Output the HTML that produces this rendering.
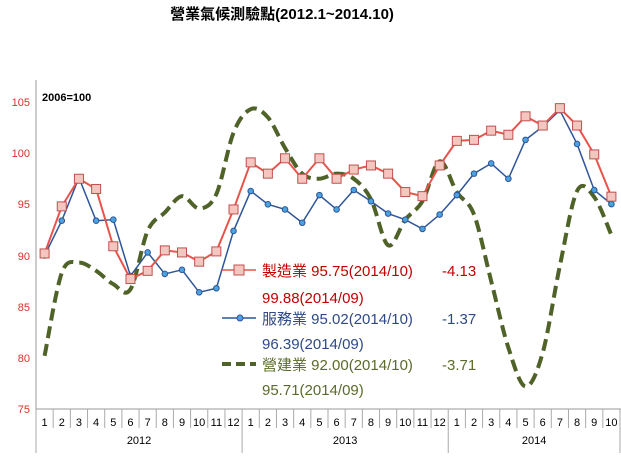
<!DOCTYPE html>
<html><head><meta charset="utf-8"><style>
body{margin:0;background:#fff;width:621px;height:453px;overflow:hidden;font-family:"Liberation Sans","Noto Sans CJK TC",sans-serif}
</style></head><body>
<svg id="s" width="621" height="453" xmlns="http://www.w3.org/2000/svg" font-family="Liberation Sans, Noto Sans CJK TC, sans-serif">
<text x="282" y="19" text-anchor="middle" font-size="15" font-weight="bold" fill="#000">營業氣候測驗點(2012.1~2014.10)</text>
<text x="42" y="101" font-size="11" font-weight="bold" fill="#000">2006=100</text>
<g font-size="11" fill="#d9302a" text-anchor="end">
<text x="30" y="106">105</text><text x="30" y="157">100</text><text x="30" y="208">95</text>
<text x="30" y="260">90</text><text x="30" y="311">85</text><text x="30" y="362">80</text><text x="30" y="413">75</text>
</g>
<line x1="36" y1="80" x2="36" y2="409" stroke="#999"/>
<line x1="36" y1="409" x2="621" y2="409" stroke="#999"/>
<g id="ax"></g>
<g id="lines"></g>
<g font-size="15">
<line x1="222" y1="270" x2="256" y2="270" stroke="#e8534a" stroke-width="1.5"/><rect x="234" y="265" width="10" height="10" fill="#f4c6c0" stroke="#c0504d"/>
<text x="262" y="276" fill="#c00000">製造業  95.75(2014/10)</text><text x="442" y="276" fill="#c00000">-4.13</text>
<text x="262" y="303" fill="#c00000">99.88(2014/09)</text>
<line x1="222" y1="318" x2="256" y2="318" stroke="#2e5597" stroke-width="1.5"/><circle cx="240" cy="318" r="3" fill="#4aa3df" stroke="#2e5597"/>
<text x="262" y="324" fill="#2e4a86">服務業  95.02(2014/10)</text><text x="442" y="324" fill="#2e4a86">-1.37</text>
<text x="262" y="349" fill="#2e4a86">96.39(2014/09)</text>
<line x1="222" y1="364" x2="256" y2="364" stroke="#4f6228" stroke-width="4" stroke-dasharray="9,5"/>
<text x="262" y="370" fill="#5a6b2c">營建業  92.00(2014/10)</text><text x="442" y="370" fill="#5a6b2c">-3.71</text>
<text x="262" y="395" fill="#5a6b2c">95.71(2014/09)</text>
</g>
</svg>
<script>
const NS="http://www.w3.org/2000/svg",W=584/34;
const X=i=>36+W*(i+0.5),Y=v=>409-(v-75)*307/30;
function el(t,a,p){const e=document.createElementNS(NS,t);for(const k in a)e.setAttribute(k,a[k]);(p||document.getElementById('lines')).appendChild(e);return e}
const ax=document.getElementById('ax');
for(let i=0;i<=34;i++){const x=36+W*i;const yr=(i%12==0)||i==34;el('line',{x1:x,y1:409,x2:x,y2:yr?453:428,stroke:'#aaa'},ax);
 if(i<34)el('text',{x:X(i),y:426,'font-size':11,'text-anchor':'middle',fill:'#000'},ax).textContent=(i%12)+1;}
[[6,'2012'],[18,'2013'],[29,'2014']].forEach(([c,t])=>el('text',{x:36+W*c,y:444,'font-size':11,'text-anchor':'middle',fill:'#000'},ax).textContent=t);
const m=[90.2,94.8,97.5,96.5,90.9,87.7,88.5,90.5,90.3,89.4,90.4,94.5,99.1,98.0,99.5,97.5,99.5,97.5,98.4,98.8,98.0,96.2,95.8,98.8,101.2,101.3,102.2,101.8,103.6,102.7,104.4,102.7,99.88,95.75];
const s=[90.0,93.4,97.6,93.4,93.5,88.0,90.3,88.2,88.6,86.4,86.8,92.4,96.3,95.0,94.5,93.2,95.9,94.5,96.4,95.3,94.1,93.5,92.6,94.0,95.9,98.0,99.0,97.5,101.3,102.6,104.2,100.9,96.39,95.02];
const c=[80.2,88.3,89.3,88.5,87.2,86.7,92.4,94.2,95.8,94.6,96.0,102.0,104.3,103.5,100.5,98.0,97.5,98.0,97.5,95.5,91.0,93.5,95.3,99.2,96.2,94.0,87.5,81.0,77.2,80.5,89.0,96.3,95.71,92.0];
function smooth(d){const p=d.map((v,i)=>[X(i),Y(v)]);let s='M'+p[0];for(let i=0;i<p.length-1;i++){const a=p[i-1]||p[i],b=p[i],cc=p[i+1],e=p[i+2]||cc;
 s+=` C${b[0]+(cc[0]-a[0])/6},${b[1]+(cc[1]-a[1])/6} ${cc[0]-(e[0]-b[0])/6},${cc[1]-(e[1]-b[1])/6} ${cc[0]},${cc[1]}`;}return s}
el('path',{d:smooth(c),fill:'none',stroke:'#4f6228','stroke-width':4,'stroke-dasharray':'12,6'});
el('polyline',{points:s.map((v,i)=>X(i)+','+Y(v)).join(' '),fill:'none',stroke:'#2e5597','stroke-width':1.5});
s.forEach((v,i)=>el('circle',{cx:X(i),cy:Y(v),r:2.8,fill:'#4aa3df',stroke:'#2e5597'}));
el('polyline',{points:m.map((v,i)=>X(i)+','+Y(v)).join(' '),fill:'none',stroke:'#e8534a','stroke-width':2});
m.forEach((v,i)=>el('rect',{x:X(i)-4.5,y:Y(v)-4.5,width:9,height:9,fill:'#f4c6c0',stroke:'#c0504d'}));
</script>
</body></html>
